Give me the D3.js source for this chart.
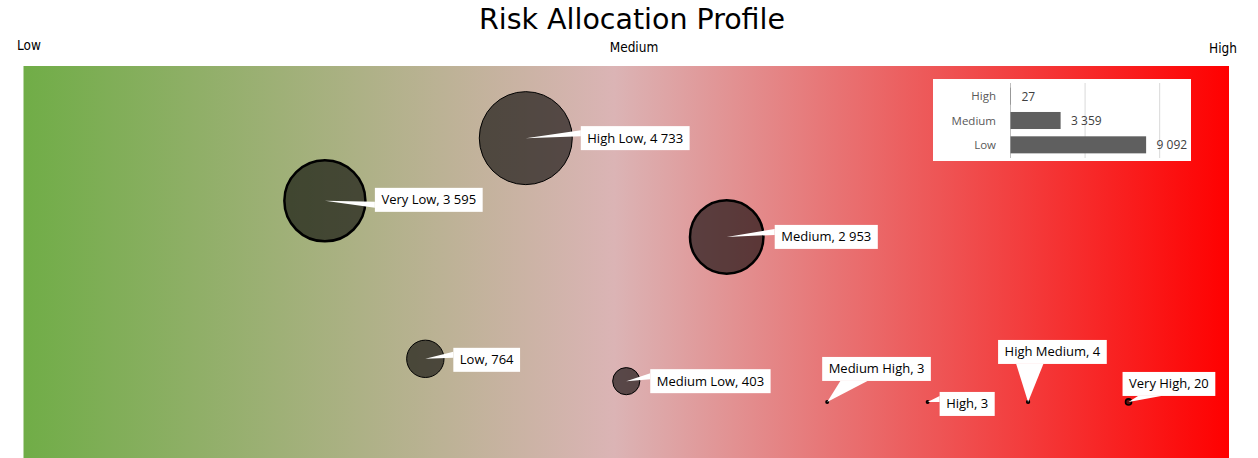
<!DOCTYPE html>
<html>
<head>
<meta charset="utf-8">
<script src="https://cdn.jsdelivr.net/npm/d3@7"></script>
<style>
  html, body { margin: 0; padding: 0; background: #fff; }
  svg { display: block; }
</style>
</head>
<body>
<svg id="chart" width="1258" height="458"></svg>
<script>
// ---- data ----
const riskCategories = ["Very Low", "Low", "High Low", "Medium Low", "Medium",
                        "Medium High", "High", "High Medium", "Very High"];
const riskPosition = [3, 4, 5, 6, 7, 8, 9, 10, 11];           // x value of each bubble
const riskScore    = [65.6, 25.3, 81.6, 19.6, 56.4, 14.3, 14.3, 14.3, 14.3]; // y value
const riskCount    = [3595, 764, 4733, 403, 2953, 3, 3, 4, 20]; // bubble size

const summaryCategories = ["High", "Medium", "Low"];
const summaryTotals     = [27, 3359, 9092];

const scaleLabels = ["Low", "Medium", "High"];
const chartTitle  = "Risk Allocation Profile";

// ---- layout ----
const W = 1258, H = 458;
const plot = { left: 23.5, right: 1229, top: 66, bottom: 458 };

// callout box offsets (box top-left relative to the bubble centre)
const calloutOffset = {
  "Very Low":    [50, -13],
  "Low":         [28, -11],
  "High Low":    [55, -12],
  "Medium Low":  [24, -12],
  "Medium":      [48, -12],
  "Medium High": [-5, -45],
  "High":        [12, -10],
  "High Medium": [-30, -62],
  "Very High":   [-6, -30]
};
const outlined = new Set(["Very Low", "Medium"]);

const fmt = d3.formatLocale({ decimal: ",", thousands: " ", grouping: [3], currency: ["", ""] }).format(",d");

const svg = d3.select("#chart");
const defs = svg.append("defs");

const grad = defs.append("linearGradient").attr("id", "riskGrad")
  .attr("x1", "0").attr("x2", "1").attr("y1", "0").attr("y2", "0");
grad.append("stop").attr("offset", "0%").attr("stop-color", "#70AD47");
grad.append("stop").attr("offset", "49%").attr("stop-color", "#DBB4B5");
grad.append("stop").attr("offset", "100%").attr("stop-color", "#FF0000");

// title and scale captions
svg.append("text")
  .attr("x", 632).attr("y", 29)
  .attr("text-anchor", "middle")
  .attr("font-family", "'Comic Sans MS', 'DejaVu Sans Condensed', sans-serif")
  .attr("font-size", 28)
  .attr("textLength", 306).attr("lengthAdjust", "spacingAndGlyphs")
  .attr("fill", "#000")
  .text(chartTitle);

const capFont = "'Comic Sans MS', 'DejaVu Sans Condensed', sans-serif";
svg.append("text").attr("x", 17).attr("y", 50).attr("text-anchor", "start")
  .attr("font-family", capFont).attr("font-size", 13.5).attr("fill", "#000").text(scaleLabels[0]);
svg.append("text").attr("x", 634).attr("y", 52).attr("text-anchor", "middle")
  .attr("font-family", capFont).attr("font-size", 13.5).attr("fill", "#000").text(scaleLabels[1]);
svg.append("text").attr("x", 1237).attr("y", 53).attr("text-anchor", "end")
  .attr("font-family", capFont).attr("font-size", 13.5).attr("fill", "#000").text(scaleLabels[2]);

// plot background
svg.append("rect")
  .attr("x", plot.left).attr("y", plot.top)
  .attr("width", plot.right - plot.left).attr("height", plot.bottom - plot.top)
  .attr("fill", "url(#riskGrad)");

// scales
const x = d3.scaleLinear().domain([0, 12]).range([plot.left, plot.right]);
const y = d3.scaleLinear().domain([0, 100]).range([plot.bottom, plot.top]);
const r = d3.scaleSqrt().domain([0, 4733]).range([0, 46.5]);

const points = riskCategories.map((name, i) => ({
  name, px: riskPosition[i], py: riskScore[i], count: riskCount[i]
}));

// bubbles
svg.append("g").selectAll("circle").data(points).join("circle")
  .attr("cx", d => x(d.px))
  .attr("cy", d => y(d.py))
  .attr("r", d => r(d.count))
  .attr("fill", "rgba(0,0,0,0.6)")
  .attr("stroke", "#000")
  .attr("stroke-width", d => outlined.has(d.name) ? 2.5 : (r(d.count) < 4 ? 1.6 : 1));

// callout wedge following the rectangular callout geometry
function wedge(bx, by, w, h, tx, ty) {
  const hc = bx + w / 2, vc = by + h / 2;
  const dx = tx - hc, dy = ty - vc;
  const dq = dx * h / w;
  let p1, p2;
  if (Math.abs(dy) > Math.abs(dq)) {
    const a = dx > 0 ? 7 : 2, b = dx > 0 ? 10 : 5;
    const yy = dy > 0 ? by + h : by;
    p1 = [bx + w * a / 12, yy]; p2 = [bx + w * b / 12, yy];
  } else {
    const a = dy > 0 ? 7 : 2, b = dy > 0 ? 10 : 5;
    const xx = dx > 0 ? bx + w : bx;
    p1 = [xx, by + h * a / 12]; p2 = [xx, by + h * b / 12];
  }
  return `M${tx},${ty}L${p1[0]},${p1[1]}L${p2[0]},${p2[1]}Z`;
}

const labels = svg.append("g");
points.forEach(d => {
  const g = labels.append("g");
  const cx = x(d.px), cy = y(d.py);
  const [ox, oy] = calloutOffset[d.name];
  const t = g.append("text")
    .attr("font-family", "'Open Sans', sans-serif")
    .attr("font-size", 13)
    .attr("fill", "#000")
    .text(`${d.name}, ${fmt(d.count)}`);
  const tw = t.node().getComputedTextLength();
  const bw = tw + 13, bh = 24;
  const bx = cx + ox, by = cy + oy;
  g.insert("path", "text").attr("d", wedge(bx, by, bw, bh, cx, cy)).attr("fill", "#fff");
  g.insert("rect", "text").attr("x", bx).attr("y", by).attr("width", bw).attr("height", bh).attr("fill", "#fff");
  t.attr("x", bx + bw / 2).attr("y", by + bh / 2 + 4.5).attr("text-anchor", "middle");
});

// summary inset bar chart
const inset = { left: 933, top: 79, width: 258, height: 82 };
svg.append("rect")
  .attr("x", inset.left).attr("y", inset.top)
  .attr("width", inset.width).attr("height", inset.height)
  .attr("fill", "#fff");

const bx = d3.scaleLinear().domain([0, 12000]).range([1010, 1189]);
const by = d3.scaleBand().domain(summaryCategories).range([84, 157]).paddingInner(0.3).paddingOuter(0.15);

svg.append("g").selectAll("line").data(bx.ticks(2)).join("line")
  .attr("x1", d => bx(d) + 0.5).attr("x2", d => bx(d) + 0.5)
  .attr("y1", 83).attr("y2", 158)
  .attr("stroke", d => d === 0 ? "#bfbfbf" : "#d9d9d9")
  .attr("stroke-width", 1);

const summary = summaryCategories.map((c, i) => ({ c, v: summaryTotals[i] }));

svg.append("g").selectAll("rect").data(summary).join("rect")
  .attr("x", bx(0) + 0.5)
  .attr("y", d => by(d.c))
  .attr("width", d => bx(d.v) - bx(0))
  .attr("height", by.bandwidth())
  .attr("fill", "#5f5f5f");

svg.append("g").selectAll("text").data(summary).join("text")
  .attr("x", 996)
  .attr("y", d => by(d.c) + by.bandwidth() / 2 + 4)
  .attr("text-anchor", "end")
  .attr("font-family", "'Open Sans', sans-serif")
  .attr("font-size", 11.5)
  .attr("fill", "#595959")
  .text(d => d.c);

svg.append("g").selectAll("text").data(summary).join("text")
  .attr("x", d => bx(d.v) + 11)
  .attr("y", d => by(d.c) + by.bandwidth() / 2 + 4.5)
  .attr("text-anchor", "start")
  .attr("font-family", "'Open Sans', sans-serif")
  .attr("font-size", 12)
  .attr("fill", "#404040")
  .text(d => fmt(d.v));
</script>
</body>
</html>
